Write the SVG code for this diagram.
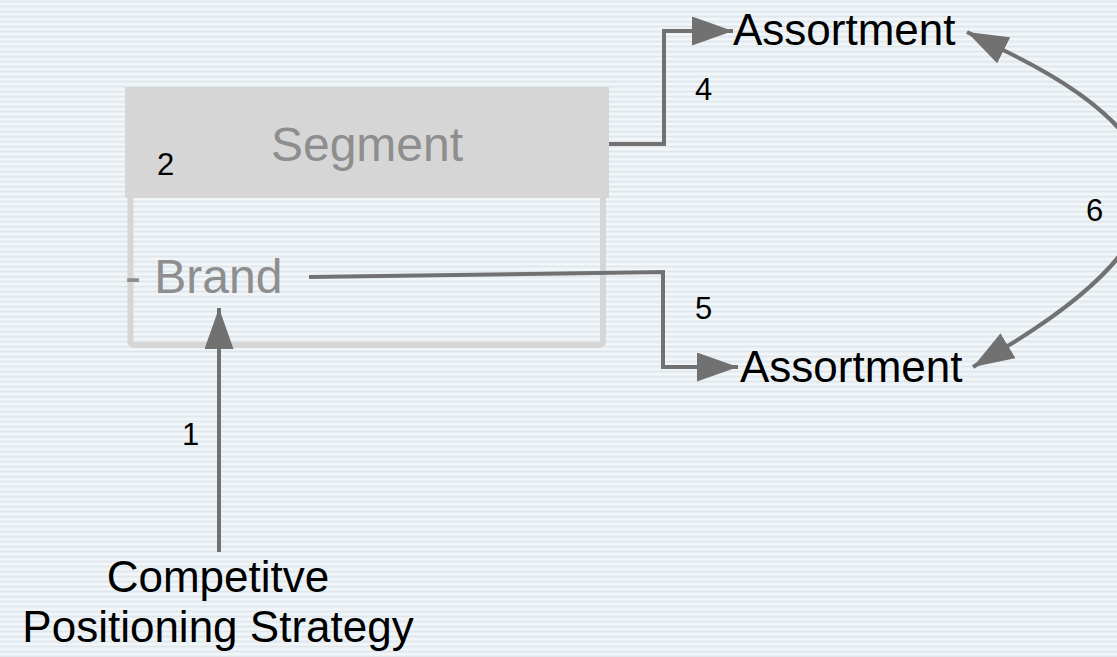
<svg xmlns="http://www.w3.org/2000/svg" width="1117" height="657" viewBox="0 0 1117 657">
  <defs>
    <!-- pinstripe backdrop -->
    <pattern id="stripes" x="0" y="0" width="10" height="5" patternUnits="userSpaceOnUse">
      <rect width="10" height="5" fill="#f3f8fb"/>
      <rect y="0" width="10" height="1" fill="#e9eff3"/>
      <rect y="1" width="10" height="1.5" fill="#e0e7ec"/>
      <rect y="2.5" width="10" height="1" fill="#e9eff3"/>
    </pattern>
    <marker id="arrow" markerUnits="userSpaceOnUse" viewBox="0 0 41 29" markerWidth="41" markerHeight="29" refX="41" refY="14.5" orient="auto-start-reverse">
      <path d="M0,0 L41,14.5 L0,29 Z" fill="#717171"/>
    </marker>
    <style>
      .lbl { font-family: "Liberation Sans", Arial, sans-serif; fill: #000; }
      .big { font-size: 44px; }
      .num { font-size: 31px; }
      .faint { font-family: "Liberation Sans", Arial, sans-serif; font-size: 48px; fill: #8e8e8e; }
      .wire { fill: none; stroke: #717171; stroke-width: 4; stroke-linejoin: miter; }
    </style>
  </defs>

  <rect width="1117" height="657" fill="url(#stripes)"/>

  <!-- class-like box: Segment header with Brand compartment -->
  <g id="segment">
    <rect x="130.5" y="190" width="472.5" height="155" rx="3" fill="none" stroke="#d6d6d6" stroke-width="6"/>
    <rect x="125" y="87" width="484" height="111" fill="#d6d6d6"/>
    <text class="faint" x="367" y="161" text-anchor="middle">Segment</text>
  </g>
  <g id="brand">
    <text class="faint" x="125" y="293">- Brand</text>
  </g>

  <g id="assortment-top">
    <text class="lbl big" x="733" y="45">Assortment</text>
  </g>
  <g id="assortment-bottom">
    <text class="lbl big" x="740" y="382">Assortment</text>
  </g>

  <g id="strategy">
    <text class="lbl big" x="218" y="592" text-anchor="middle">Competitve</text>
    <text class="lbl big" x="218" y="642" text-anchor="middle">Positioning Strategy</text>
  </g>

  <!-- connectors -->
  <g id="connectors">
    <path class="wire" d="M219,552 V308" marker-end="url(#arrow)"/>
    <path class="wire" d="M609,144 H664 V31 H733" marker-end="url(#arrow)"/>
    <path class="wire" d="M309,277 L663,272 V367 H738" marker-end="url(#arrow)"/>
    <path class="wire" d="M967,32 L1003,50 C1200,145 1187,237 1006,347 L973,367" marker-start="url(#arrow)" marker-end="url(#arrow)"/>
  </g>

  <!-- connector numbers -->
  <g id="numbers">
    <text class="lbl num" x="182" y="445">1</text>
    <text class="lbl num" x="157" y="175">2</text>
    <text class="lbl num" x="695" y="100">4</text>
    <text class="lbl num" x="695" y="319">5</text>
    <text class="lbl num" x="1086" y="221">6</text>
  </g>
</svg>
